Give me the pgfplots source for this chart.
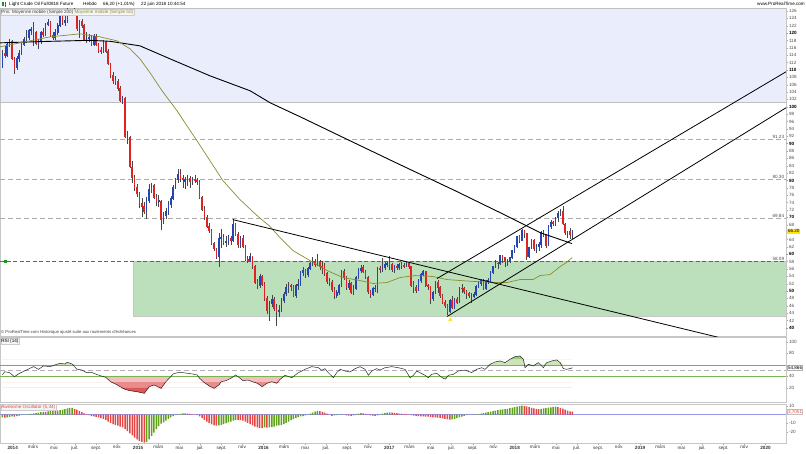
\documentclass[border=0pt]{standalone}
\usepackage{pgfplots}
\pgfplotsset{compat=1.18}
\usepackage{pgfplotstable}
\usepgfplotslibrary{fillbetween}
\usepackage{fontspec}
\setmainfont{Liberation Sans}

\definecolor{upblue}{RGB}{35,70,180}
\definecolor{dnred}{RGB}{222,35,35}
\definecolor{wick}{RGB}{70,70,70}
\definecolor{bgblue}{RGB}{233,237,252}
\definecolor{zonegreen}{RGB}{187,224,187}
\definecolor{lvlgreen}{RGB}{30,150,30}
\definecolor{ma50}{RGB}{140,140,50}
\definecolor{rsired}{RGB}{228,115,115}
\definecolor{rsired1}{RGB}{244,190,190}
\definecolor{rsired2}{RGB}{234,140,140}
\definecolor{rsired3}{RGB}{222,88,88}
\definecolor{rsigreen}{RGB}{120,180,80}
\definecolor{rsigreen1}{RGB}{205,228,185}
\definecolor{rsigreen2}{RGB}{160,200,125}
\definecolor{aogreen}{RGB}{95,160,25}
\definecolor{aored}{RGB}{228,70,70}
\definecolor{aozero}{RGB}{150,150,235}

\newcommand\sz{\fontsize{4.6}{5}\selectfont}

% weekly candles, k = weeks after 30 Dec 2013 (back-adjusted prices)
\pgfplotstableread{
k o h l c
-4 111.0 115.4 110.4 114.6
-3 114.6 116.4 113.2 114.0
-2 114.0 117.2 113.6 116.8
-1 116.8 118.4 116.2 117.8
0 117.6 118.0 112.6 113.2
1 113.2 113.6 108.9 110.2
2 110.6 113.8 110.0 113.0
3 113.0 115.4 112.2 114.6
4 114.6 117.6 114.0 116.8
5 116.8 119.0 116.4 118.4
6 118.4 120.8 117.2 118.8
7 118.8 121.2 118.2 120.6
8 120.6 121.6 119.6 120.9
9 118.4 122.9 116.4 120.2
10 120.2 120.6 116.8 117.2
11 117.2 118.4 115.8 117.8
12 117.8 120.6 117.0 120.1
13 120.1 121.4 118.8 119.6
14 119.6 122.8 119.2 122.4
15 122.4 123.8 121.8 123.0
16 123.0 123.4 119.0 119.4
17 119.4 120.4 118.0 118.8
18 118.8 121.0 118.2 120.2
19 120.2 122.6 119.6 122.0
20 122.0 124.8 121.6 124.4
21 124.4 124.8 122.2 122.9
22 122.9 124.8 122.0 123.4
23 123.4 128.0 122.8 127.6
24 127.6 129.2 127.0 128.4
25 128.4 128.8 127.0 127.4
26 127.4 128.0 126.3 126.9
27 125.4 125.8 120.6 121.2
28 121.2 123.6 118.6 123.2
29 123.2 123.8 121.4 122.0
30 122.0 122.4 117.8 118.2
31 118.2 120.2 117.4 118.6
32 118.6 119.8 117.6 118.8
33 118.8 119.4 116.4 117.0
34 117.0 119.8 116.6 119.2
35 119.2 119.8 116.4 116.8
36 116.8 117.4 114.6 115.2
37 115.2 116.2 114.2 115.0
38 115.0 118.0 114.6 117.4
39 117.4 117.8 114.6 115.0
40 115.0 115.6 111.2 111.6
41 111.6 112.0 107.8 108.6
42 108.6 109.4 106.2 107.2
43 107.2 108.4 105.8 106.8
44 106.8 107.6 104.4 105.0
45 105.0 105.6 101.2 101.6
46 101.6 102.8 100.8 102.2
47 102.2 102.6 91.4 91.8
48 91.2 93.4 89.8 91.6
49 91.6 92.0 83.4 83.8
50 83.6 85.2 79.4 80.8
51 80.8 81.4 77.2 78.2
52 78.2 79.0 75.4 76.4
53 76.4 77.0 72.4 73.8
54 73.8 75.2 70.0 73.0
55 73.0 74.2 70.8 71.6
56 71.6 75.4 69.6 74.6
57 74.6 79.0 74.0 77.6
58 77.6 79.4 76.6 78.6
59 78.6 79.0 75.0 75.4
60 75.4 76.2 73.0 74.2
61 74.2 76.0 72.8 74.6
62 74.4 74.8 66.6 69.4
63 69.4 71.4 68.2 70.6
64 70.6 72.4 69.6 71.6
65 71.4 74.4 70.6 73.6
66 73.6 75.8 72.6 75.0
67 75.0 78.8 74.6 78.2
68 78.2 80.8 77.6 80.2
69 80.2 83.0 79.4 81.6
70 81.6 83.2 79.6 80.6
71 80.6 81.4 78.0 80.2
72 79.8 81.0 77.8 80.2
73 80.2 81.4 78.6 80.6
74 80.6 81.2 78.0 79.6
75 79.6 81.0 78.8 80.4
76 80.4 81.6 79.2 80.0
77 80.0 80.8 78.8 79.6
78 79.6 80.0 75.0 75.4
79 75.4 75.8 71.6 72.2
80 72.2 73.0 69.2 70.0
81 70.0 70.6 67.0 67.6
82 67.6 68.4 65.8 66.4
83 66.4 66.8 62.4 62.8
84 62.8 63.4 60.8 61.4
85 61.4 61.8 58.6 59.4
86 59.4 65.8 56.6 64.2
87 64.2 66.8 61.8 64.6
88 64.6 65.6 62.4 63.2
89 63.2 65.0 62.0 63.4
90 63.4 65.2 62.6 64.2
91 64.2 64.8 62.6 63.8
92 63.8 69.6 63.4 68.0
93 68.0 68.4 64.8 65.4
94 65.4 66.0 61.8 62.6
95 62.6 65.0 61.6 64.4
96 64.4 65.2 61.6 62.0
97 62.0 62.4 58.2 58.6
98 58.6 59.6 57.6 58.2
99 58.2 60.2 57.8 59.4
100 59.4 59.6 56.0 56.8
101 56.8 57.2 52.0 52.4
102 52.4 53.4 50.6 51.6
103 51.6 54.6 50.8 54.0
104 54.0 54.4 51.4 51.8
105 51.8 52.4 47.4 48.0
106 48.0 48.6 43.8 44.6
107 44.6 47.4 42.0 46.6
108 46.6 49.0 45.6 47.8
109 47.8 48.4 44.6 45.2
110 45.2 46.6 40.4 44.4
111 44.4 46.2 43.0 44.8
112 44.8 48.0 44.4 47.4
113 47.4 49.8 46.8 49.2
114 49.2 51.8 48.6 51.0
115 51.0 52.4 49.6 51.4
116 51.4 52.0 50.0 51.2
117 51.2 51.6 48.4 48.8
118 48.8 52.0 48.2 51.4
119 51.4 53.2 50.2 51.8
120 51.8 55.4 51.4 55.0
121 55.0 56.4 54.0 55.6
122 55.6 56.0 53.6 54.4
123 54.4 56.6 53.8 56.0
124 56.0 58.0 55.6 57.4
125 57.4 59.2 56.8 58.0
126 58.0 58.6 56.6 57.2
127 57.2 60.0 56.8 57.8
128 57.8 58.4 55.8 56.6
129 56.6 58.2 54.6 56.4
130 56.6 57.6 54.2 54.8
131 54.8 55.2 52.0 52.6
132 52.6 53.6 51.4 52.4
133 52.4 53.0 49.8 50.4
134 50.4 51.0 47.8 48.8
135 48.8 50.4 48.0 49.6
136 49.6 52.0 49.0 51.6
137 51.6 55.8 51.2 55.4
138 55.4 56.0 53.0 53.6
139 53.6 54.2 50.4 51.0
140 51.0 53.0 50.4 52.0
141 52.0 52.4 49.2 49.6
142 49.6 51.6 49.0 50.8
143 50.8 54.0 50.4 53.6
144 53.6 56.2 53.2 55.6
145 55.6 57.0 55.0 56.2
146 56.4 57.2 54.8 55.4
147 55.4 55.8 53.4 53.8
148 53.8 54.0 49.2 49.8
149 49.8 50.4 48.2 49.0
150 49.0 51.2 48.6 50.6
151 50.6 51.6 49.8 50.8
152 50.8 56.6 49.4 56.2
153 56.2 56.8 55.0 55.8
154 55.8 59.0 55.2 56.4
155 56.4 57.8 55.6 57.2
156 57.2 57.8 56.6 57.4
157 57.4 59.4 55.6 57.2
158 57.2 57.6 55.2 55.8
159 55.8 57.2 55.0 56.6
160 56.7 57.4 55.6 56.5
161 56.5 57.6 55.8 57.2
162 57.2 57.8 56.0 57.0
163 57.0 57.6 56.2 56.8
164 56.8 58.0 56.6 57.4
165 57.4 57.8 56.0 56.6
166 56.6 56.8 51.2 51.6
167 51.8 52.6 49.6 51.0
168 51.0 51.6 49.4 50.2
169 50.2 53.2 50.0 52.8
170 52.8 54.8 52.2 54.4
171 54.4 55.8 54.0 55.2
172 55.2 55.4 51.2 51.6
173 51.6 52.0 50.4 51.2
174 51.2 51.4 46.4 48.0
175 48.0 50.0 47.4 49.6
176 49.6 52.6 49.2 52.2
177 52.2 53.0 49.6 51.0
178 51.0 51.4 48.2 48.8
179 48.8 49.2 46.4 47.0
180 47.0 47.6 45.4 46.0
181 46.0 46.4 43.4 44.4
182 44.4 47.8 44.0 47.4
183 47.4 48.6 45.2 45.6
184 45.6 48.2 45.0 47.8
185 47.8 48.4 46.6 47.0
186 47.0 51.0 46.8 50.8
187 50.8 51.8 49.6 50.6
188 50.6 51.2 49.2 49.8
189 49.8 50.4 47.8 49.4
190 49.4 49.8 48.0 48.8
191 48.4 49.4 46.8 48.6
192 48.6 49.8 48.0 49.0
193 49.0 51.6 48.6 51.2
194 51.2 52.8 50.8 52.0
195 52.0 53.4 51.4 53.0
196 53.0 53.2 50.2 50.6
197 50.6 53.0 50.2 52.6
198 52.6 53.6 51.8 52.8
199 52.8 55.4 52.4 55.0
200 55.0 56.8 54.6 56.6
201 56.6 58.4 56.2 57.6
202 57.6 57.8 56.0 57.4
203 57.4 59.8 57.2 59.6
204 59.6 59.8 57.6 59.0
205 59.0 59.2 56.6 58.0
206 57.9 58.8 56.8 58.1
207 58.1 59.2 57.6 59.0
208 59.0 61.2 58.8 61.0
209 61.0 62.4 60.4 62.0
210 62.0 65.0 61.6 64.8
211 64.8 65.2 63.0 63.8
212 63.8 66.9 63.6 66.4
213 66.4 66.6 64.4 65.6
214 65.6 65.8 58.3 59.4
215 59.4 62.0 59.0 61.8
216 61.8 64.0 61.4 63.8
217 63.8 64.0 60.8 61.4
218 61.4 62.8 60.2 62.2
219 62.2 63.2 61.0 62.6
220 62.6 66.4 61.8 66.0
221 66.0 66.6 64.6 65.2
222 65.2 65.6 61.8 62.4
223 62.4 67.8 62.2 67.6
224 67.6 69.2 66.8 68.6
225 68.6 69.0 67.6 68.4
226 68.4 70.2 67.6 70.0
227 70.0 71.6 68.8 71.0
228 71.0 72.2 70.4 71.6
229 71.6 73.2 68.0 68.2
230 68.2 68.4 65.2 66.0
231 65.8 66.4 64.4 66.1
232 66.1 67.0 64.0 65.2
233 65.2 66.6 64.0 66.2
}\ohlc

\pgfplotstableread{
k p
-4.9 117.35
15.8 117.76
32.4 118.03
40.8 117.76
53.2 116.53
65.7 113.01
82.3 108.40
99.0 104.34
107.3 101.09
119.8 97.29
140.5 90.79
161.3 84.29
184.2 77.24
202.9 71.28
219.5 65.86
232.8 62.88
}\smaa

\pgfplotstableread{
k p
-4.9 116.26
3.3 117.35
15.8 118.97
28.3 119.79
36.6 118.97
43.7 117.89
49.1 115.72
53.2 113.01
57.4 109.22
62.4 104.34
68.6 98.92
76.9 90.79
82.3 85.37
87.7 79.95
94.8 74.80
101.9 70.47
107.3 67.49
111.4 64.50
116.8 60.98
123.9 58.27
131.0 55.56
137.6 53.66
144.7 52.85
150.1 52.04
155.9 52.31
161.3 53.66
167.6 54.20
175.1 53.93
180.9 53.12
186.3 52.85
192.5 52.58
201.7 52.31
205.8 52.31
211.2 53.12
216.6 53.12
219.5 54.20
223.7 54.47
227.9 56.64
230.4 57.72
232.9 59.08
}\smab

\pgfplotstableread{
k r
-4 43
-3 48
-1 46.5
1 39.5
3 45
6 51
9 57
11 52
13 58
16 57
18 60
20 62.6
22 61.4
23 64.4
25 61.4
27 52.2
29 51.1
31 46.5
33 47.1
35 43.7
37 40.8
39 38.4
41 30.8
43 26.8
45 22.2
47 17.6
49 15.3
52 13.5
55 10.7
56 16.5
57 22.2
59 25.1
60 23.4
62 19.4
64 30.8
66 39.5
67 44.2
69 46.5
71 46.5
75 44.2
77 42.4
78 36.7
80 29.1
82 23.4
84 19.4
86 25.1
87 30.8
89 32.6
91 36.7
93 42.4
94 39.5
96 32.6
98 33.7
100 30.8
102 28.1
104 22.2
106 28.1
108 30.8
110 28.1
111.5 35.0
113.5 41.9
116.3 37.8
119.1 46.4
121.8 52.2
124.6 56.8
127.4 55.0
128.8 50.5
130.1 53.5
131.5 46.4
133.6 37.8
135.0 46.4
136.4 52.2
138.5 49.3
140.5 47.6
142.6 53.3
144.7 56.8
146.8 52.2
148.2 41.9
149.6 49.3
151.6 53.3
153.0 51.0
155.1 55.0
157.9 56.8
160.6 55.0
163.4 52.2
165.5 37.8
166.9 41.9
168.3 49.3
169.6 46.4
171.7 41.9
173.1 37.8
174.5 43.6
176.6 45.3
178.0 40.5
179.3 36.5
180.3 35.5
181.4 41.9
183.5 43.6
185.6 49.3
188.4 51.0
191.1 46.4
193.2 52.2
195.3 55.0
196.7 52.2
198.8 60.9
200.8 64.9
202.9 66.7
205.0 63.8
207.1 69.6
209.1 74.1
211.2 75.3
212.6 69.6
213.3 55.0
214.7 60.9
216.8 58.0
218.8 63.8
220.9 55.0
222.3 63.8
224.4 66.7
226.5 68.5
227.9 63.8
229.2 53.5
230.6 52.2
232.0 53.5
233.0 54.9
}\rsi

\pgfplotstableread{
k ao
-4 -3
-3 -3.5
-2 -3
-1 -2.5
0 -2
1 -2.1
2 -1.5
3 -1
4 -0.5
5 0.2
6 0.4
7 0.6
8 1
9 1.5
10 2
11 2.5
12 3
13 3.5
14 3.4
15 4
16 4.2
17 4.5
18 4.4
19 5
20 5.5
21 6
22 6.5
23 7.5
24 8
25 8.2
26 7
27 6
28 4.5
29 3
30 1.5
31 0.5
32 -0.5
33 -1.5
34 -2
35 -2.5
36 -3
37 -4
38 -5
39 -6
40 -8
41 -9.5
42 -11
43 -12
44 -13
45 -14
46 -15
47 -17
48 -19.5
49 -22
50 -24.5
51 -27
52 -29
53 -31
54 -32
55 -33
56 -32
57 -29
58 -25
59 -21
60 -17
61 -13.5
62 -10.5
63 -9
64 -7
65 -5
66 -3
67 -1.5
68 -0.5
69 0.5
70 1
71 1.5
72 1.6
73 1.2
74 1
75 0.5
76 0
77 -0.5
78 -2
79 -4
80 -6
81 -8
82 -10
83 -11.5
84 -12.5
85 -13
86 -12.5
87 -12
88 -11
89 -10
90 -9
91 -8
92 -7
93 -6
94 -6.2
95 -6.5
96 -7
97 -8
98 -9.5
99 -11
100 -12.5
101 -14
102 -15
103 -15.5
104 -15.7
105 -15
106 -15.2
107 -15
108 -14.5
109 -14
110 -13
111 -12.5
112 -12
113 -11
114 -9.5
115 -8
116 -6.5
117 -5.2
118 -3.8
119 -2.8
120 -2
121 -1.6
122 -0.6
123 0.2
124 1.2
125 2.5
126 3.6
127 4.6
128 4.2
129 3.4
130 2.4
131 1.2
132 -0.2
133 -1.2
134 -0.8
135 -0.5
136 0.3
137 0.6
138 0.2
139 -0.6
140 -1.0
141 -1.2
142 -0.6
143 0.6
144 1.4
145 2.0
146 1.6
147 1.0
148 0.2
149 -0.6
150 -1.0
151 -1.2
152 -0.8
153 0.2
154 1.2
155 2.0
156 2.6
157 2.8
158 2.6
159 2.2
160 1.8
161 1.4
162 1.2
163 0.8
164 0.6
165 0.2
166 -0.4
167 -1.0
168 -1.4
169 -1.6
170 -1.8
171 -2.0
172 -2.2
173 -2.3
174 -2.6
175 -3.0
176 -3.2
177 -3.4
178 -3.6
179 -4.2
180 -4.8
181 -5.4
182 -5.9
183 -5.6
184 -4.8
185 -4.0
186 -3.2
187 -2.2
188 -1.2
189 -0.4
190 0.2
191 0.4
192 0.3
193 0.5
194 0.8
195 1.4
196 2.0
197 2.6
198 3.2
199 3.8
200 4.4
201 5.0
202 5.6
203 6.0
204 6.4
205 6.6
206 7.0
207 7.8
208 8.5
209 9.1
210 9.6
211 10.2
212 10.7
213 10.4
214 9.8
215 9.0
216 8.2
217 7.5
218 7.0
219 6.7
220 6.9
221 7.4
222 7.8
223 8.3
224 8.8
225 9.2
226 9.5
227 9.0
228 8.2
229 7.2
230 6.0
231 4.8
232 3.9
233 3.7
}\aotab

% up = 1 when the bar is higher than the previous one
\pgfplotstablecreatecol[
  create col/assign/.code={%
    \ifnum\pgfplotstablerow=0
      \def\entry{1}%
    \else
      \getthisrow{ao}\aocur
      \getprevrow{ao}\aoprev
      \pgfmathparse{\aocur>\aoprev ? 1 : 0}%
      \let\entry\pgfmathresult
    \fi
    \pgfkeyslet{/pgfplots/table/create col/next content}\entry
  }]{up}{\aotab}

\pgfplotsset{
  panel/.style={
    scale only axis, width=786pt, xmin=-4.99, xmax=321.8,
    axis line style={draw=gray!45, line width=0.4pt},
    ytick pos=right, yticklabel pos=right,
    tick align=outside, major tick length=2pt,
    tick style={draw=gray!70, line width=0.3pt},
    yticklabel style={font=\sz, text=black!70, inner sep=0.8pt},
    xtick=\empty,
    clip mode=individual,
    /pgf/number format/assume math mode=true,
  },
  candle/.style={draw=none, mark=none, forget plot,
    error bars/y dir=both, error bars/y explicit, error bars/error mark=none},
}

\begin{document}
\begin{tikzpicture}

% ---------- price ----------
\begin{axis}[panel, at={(0pt,117pt)}, anchor=south west, height=328pt,
  ymin=37.8, ymax=126.8,
  ytick={42,44,46,48,52,54,56,58,62,64,68,72,74,76,78,82,84,86,88,92,94,96,98,102,104,106,108,112,114,116,118,122,124,126},
  extra y ticks={40,50,60,70,80,90,100,110,120},
  extra y tick style={yticklabel style={font=\sz\bfseries, text=black}},
]
\addplot[fill=bgblue, draw=gray!50, line width=0.4pt] coordinates {(-4.99,101.2) (321.8,101.2) (321.8,126.8) (-4.99,126.8)} -- cycle;
\addplot[fill=zonegreen, draw=gray!45, line width=0.5pt] coordinates {(50.5,43.2) (321.8,43.2) (321.8,58.09) (50.5,58.09)} -- cycle;

\addplot[gray!65, line width=0.8pt, dash pattern=on 5pt off 3pt] coordinates {(-4.99,91.23) (321.8,91.23)};
\addplot[gray!65, line width=0.8pt, dash pattern=on 5pt off 3pt] coordinates {(-4.99,80.30) (321.8,80.30)};
\addplot[gray!65, line width=0.8pt, dash pattern=on 5pt off 3pt] coordinates {(-4.99,69.84) (321.8,69.84)};
\addplot[lvlgreen, line width=0.8pt, dash pattern=on 4pt off 2.5pt] coordinates {(-4.99,58.09) (321.8,58.09)};
\addplot[only marks, mark=square*, mark size=1pt, lvlgreen] coordinates {(-3,58.09)};

% candles
\addplot[candle, error bars/error bar style={draw=wick, line width=0.45pt}]
  table[x=k, y expr={(\thisrow{h}+\thisrow{l})/2}, y error expr={(\thisrow{h}-\thisrow{l})/2}] {\ohlc};
\addplot[candle, restrict expr to domain={\thisrow{c}-\thisrow{o}}{0:1000},
  error bars/error bar style={draw=upblue, line width=1.6pt}]
  table[x=k, y expr={(\thisrow{o}+\thisrow{c})/2}, y error expr={abs(\thisrow{c}-\thisrow{o})/2+0.12}] {\ohlc};
\addplot[candle, restrict expr to domain={\thisrow{c}-\thisrow{o}}{-1000:-0.001},
  error bars/error bar style={draw=dnred, line width=1.6pt}]
  table[x=k, y expr={(\thisrow{o}+\thisrow{c})/2}, y error expr={abs(\thisrow{c}-\thisrow{o})/2+0.12}] {\ohlc};

% moving averages
\addplot[black, line width=0.9pt] table[x=k, y=p] {\smaa};
\addplot[ma50, line width=0.7pt] table[x=k, y=p] {\smab};

% trend lines
\addplot[black, line width=0.8pt] coordinates {(91.77,69.38) (300,36.44)};
\addplot[black, line width=0.8pt] coordinates {(176.7,53.39) (321.8,109.49)};
\addplot[black, line width=0.8pt] coordinates {(180.9,43.09) (321.8,99.73)};
\addplot[only marks, mark=triangle*, mark size=1.8pt, color=yellow!85!orange] coordinates {(182.2,42.2)};

\node[anchor=south east, font=\sz, text=black!70, inner sep=0.5pt] at (axis cs:321.3,91.23) {91.23};
\node[anchor=south east, font=\sz, text=black!70, inner sep=0.5pt] at (axis cs:321.3,80.30) {80.30};
\node[anchor=south east, font=\sz, text=black!70, inner sep=0.5pt] at (axis cs:321.3,69.84) {69.84};
\node[anchor=south east, font=\sz, text=black!70, inner sep=0.5pt] at (axis cs:321.3,58.09) {58.09};
\node[anchor=west, font=\sz, fill=yellow!90!orange, inner sep=0.6pt] at (axis cs:322.3,66.2) {66.20};
\end{axis}

% ---------- RSI ----------
\begin{axis}[panel, at={(0pt,51pt)}, anchor=south west, height=65pt,
  ymin=-4.3, ymax=108.1, ytick={20,40,80,100}]
\addplot[name path=b40, draw=none, forget plot] coordinates {(-4,40) (233,40)};
\addplot[name path=b30, draw=none, forget plot] coordinates {(-4,30) (233,30)};
\addplot[name path=b20, draw=none, forget plot] coordinates {(-4,20) (233,20)};
\addplot[name path=b60, draw=none, forget plot] coordinates {(-4,60) (233,60)};
\addplot[name path=b70, draw=none, forget plot] coordinates {(-4,70) (233,70)};
\addplot[name path=r40, draw=none, forget plot] table[x=k, y expr={min(\thisrow{r},40)}] {\rsi};
\addplot[name path=r30, draw=none, forget plot] table[x=k, y expr={min(\thisrow{r},30)}] {\rsi};
\addplot[name path=r20, draw=none, forget plot] table[x=k, y expr={min(\thisrow{r},20)}] {\rsi};
\addplot[name path=r60, draw=none, forget plot] table[x=k, y expr={max(\thisrow{r},60)}] {\rsi};
\addplot[name path=r70, draw=none, forget plot] table[x=k, y expr={max(\thisrow{r},70)}] {\rsi};
\addplot[fill=rsired1, draw=none] fill between[of=r40 and b40];
\addplot[fill=rsired2, draw=none] fill between[of=r30 and b30];
\addplot[fill=rsired3, draw=none] fill between[of=r20 and b20];
\addplot[fill=rsigreen1, draw=none] fill between[of=r60 and b60];
\addplot[fill=rsigreen2, draw=none] fill between[of=r70 and b70];
\addplot[rsired, line width=0.5pt] coordinates {(-4.99,60) (321.8,60)};
\addplot[rsigreen, line width=0.5pt] coordinates {(-4.99,40) (321.8,40)};
\addplot[gray!60, line width=0.8pt, dash pattern=on 5pt off 3pt] coordinates {(-4.99,50) (321.8,50)};
\addplot[black!85, line width=0.5pt] table[x=k, y=r] {\rsi};
\node[anchor=west, font=\sz, fill=white, draw=gray!60, inner sep=0.6pt] at (axis cs:322.3,54.9) {54,866};
\end{axis}

% ---------- Awesome Oscillator ----------
\begin{axis}[panel, at={(0pt,10pt)}, anchor=south west, height=39pt,
  ymin=-33.4, ymax=12.7, ytick={-20,-10,10},
  xtick={0.29,8.71,17.43,26.14,35.0,43.71,52.43,60.86,69.57,78.29,87.14,95.86,104.57,113.14,121.86,130.57,139.43,148.14,156.86,165.29,174.0,182.71,191.57,200.29,209.0,217.43,226.14,234.86,243.71,252.43,261.14,269.57,278.29,287.0,295.86,304.57,313.29},
  xticklabels={\textbf{2014},mars,mai,juil.,sept.,nov.,\textbf{2015},mars,mai,juil.,sept.,nov.,\textbf{2016},mars,mai,juil.,sept.,nov.,\textbf{2017},mars,mai,juil.,sept.,nov.,\textbf{2018},mars,mai,juil.,sept.,nov.,\textbf{2019},mars,mai,juil.,sept.,nov.,\textbf{2020}},
  xtick pos=left, xticklabel style={font=\sz, text=black!80, inner sep=1pt},
]
\addplot[aozero, line width=0.6pt] coordinates {(-4.99,0) (321.8,0)};
\addplot[ybar, bar width=1.5pt, bar shift=0pt, fill=aogreen, draw=none,
  restrict expr to domain={\thisrow{up}}{0.5:1.5}] table[x=k, y=ao] {\aotab};
\addplot[ybar, bar width=1.5pt, bar shift=0pt, fill=aored, draw=none,
  restrict expr to domain={\thisrow{up}}{-0.5:0.5}] table[x=k, y=ao] {\aotab};
\node[anchor=west, font=\sz, text=aored, fill=white, draw=gray!50, inner sep=0.6pt] at (axis cs:322.3,3.2) {3,7051};
\end{axis}

% ---------- texts ----------
\fill[lvlgreen] (2pt,447pt) rectangle (3.6pt,451pt);
\fill[dnred] (4.6pt,446pt) rectangle (6.2pt,450.5pt);
\node[anchor=west, font=\sz, inner sep=0pt] at (9pt,449pt) {Light Crude Oil Full0818 Future};
\node[anchor=west, font=\sz, inner sep=0pt] at (83pt,449pt) {Hebdo};
\node[anchor=west, font=\sz, inner sep=0pt] at (103pt,449pt) {66,20 (+1,01\%)};
\node[anchor=west, font=\sz, inner sep=0pt] at (141pt,449pt) {22 juin 2018 10:44:54};
\node[anchor=east, font=\sz, inner sep=0pt] at (805pt,449pt) {www.ProRealTime.com};
\node[anchor=west, font=\sz, fill=gray!8, draw=gray!40, inner sep=0.6pt] at (0.5pt,441pt)
  {\textcolor{black!75}{Prix: Moyenne mobile (Simple 200)} \textcolor{ma50}{Moyenne mobile (Simple 50)}};
\node[anchor=west, font=\fontsize{4.2}{5}\selectfont, text=black!75, inner sep=0pt] at (1pt,120.5pt)
  {© ProRealTime.com Historique ajusté suite aux roulements d’échéances};
\node[anchor=west, font=\sz, fill=gray!8, draw=gray!40, inner sep=0.6pt] at (0.5pt,112pt) {RSI (14)};
\node[anchor=west, font=\sz, text=aored, fill=gray!8, draw=gray!40, inner sep=0.6pt] at (0.5pt,46pt) {Awesome Oscillator (5,34)};

\pgfresetboundingbox
\path[use as bounding box] (0,0) rectangle (806pt,453pt);
\end{tikzpicture}
\end{document}
